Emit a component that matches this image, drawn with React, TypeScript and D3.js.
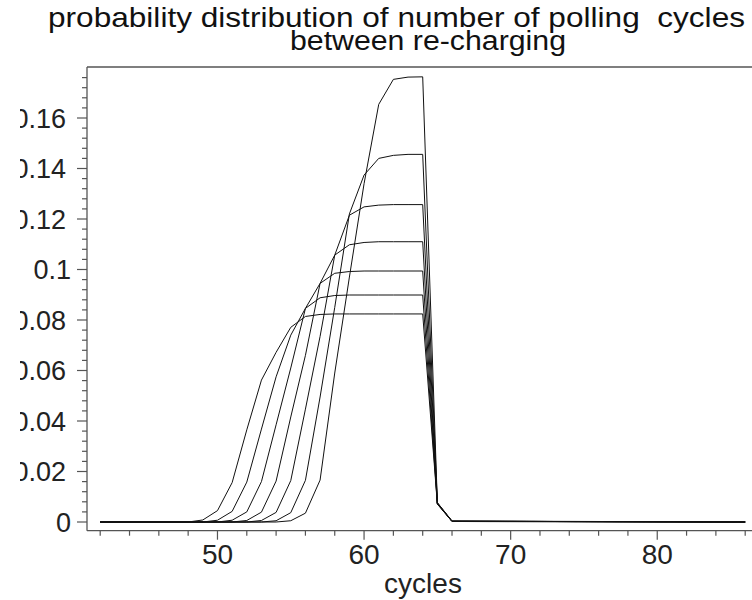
import React from 'react';
import * as d3 from 'd3';

// cycles where the curves change (flat zero before 48 and after 66)
const cycles = [42, 48, 49, 50, 51, 52, 53, 54, 55, 56, 57, 58, 59, 60, 61, 62, 63, 64, 65, 66, 86];

const curve1 = [0, 0, 0.0008, 0.0045, 0.0156, 0.0365, 0.0562, 0.0672, 0.0771, 0.0814, 0.0822, 0.0824, 0.0824, 0.0824, 0.0824, 0.0824, 0.0824, 0.0824, 0.0071, 0.0002, 0];
const curve2 = [0, 0, 0, 0.0007, 0.0042, 0.0158, 0.0368, 0.0575, 0.074, 0.0846, 0.0888, 0.0897, 0.0899, 0.0899, 0.0899, 0.0899, 0.0899, 0.0899, 0.0072, 0.0002, 0];
const curve3 = [0, 0, 0, 0, 0.0007, 0.004, 0.016, 0.0385, 0.061, 0.0846, 0.0945, 0.0985, 0.0992, 0.0994, 0.0994, 0.0994, 0.0994, 0.0994, 0.0073, 0.0003, 0];
const curve4 = [0, 0, 0, 0, 0, 0.0006, 0.0039, 0.0162, 0.0416, 0.066, 0.0945, 0.1057, 0.1098, 0.1107, 0.111, 0.111, 0.111, 0.111, 0.0074, 0.0003, 0];
const curve5 = [0, 0, 0, 0, 0, 0, 0.0006, 0.0038, 0.0164, 0.0447, 0.0735, 0.1057, 0.1215, 0.1248, 0.1255, 0.1257, 0.1257, 0.1257, 0.0075, 0.0003, 0];
const curve6 = [0, 0, 0, 0, 0, 0, 0, 0.0005, 0.0037, 0.0165, 0.0495, 0.085, 0.122, 0.1374, 0.144, 0.1452, 0.1456, 0.1456, 0.0076, 0.0003, 0];
const curve7 = [0, 0, 0, 0, 0, 0, 0, 0, 0.0005, 0.0035, 0.0166, 0.059, 0.097, 0.134, 0.1654, 0.1753, 0.1762, 0.1763, 0.0077, 0.0004, 0];

const allCurves = [curve1, curve2, curve3, curve4, curve5, curve6, curve7];

const xTicks = [50, 60, 70, 80];
const yTicks = [0, 0.02, 0.04, 0.06, 0.08, 0.1, 0.12, 0.14, 0.16];
const yTickLabels = ['0', '0.02', '0.04', '0.06', '0.08', '0.1', '0.12', '0.14', '0.16'];

const titleLine1 = 'probability distribution of number of polling  cycles';
const titleLine2 = 'between re-charging';
const xLabel = 'cycles';

const W = 752;
const H = 600;
const left = 87;
const top = 67;
const bottom = 530.7;
const axisColor = '#555';
const font = '"Liberation Sans", Arial, sans-serif';

export default function App() {
  const x = d3.scaleLinear().domain([42, 86]).range([100.2, 745.2]);
  const y = d3.scaleLinear().domain([0, 0.16]).range([522, 118]);

  const line = d3.line<number>()
    .x((_, i) => x(cycles[i]))
    .y(d => y(d));

  const yMinor = d3.range(0, 0.1781, 0.004).filter(v => Math.abs(v / 0.02 - Math.round(v / 0.02)) > 1e-6);
  const xMinor = d3.range(42, 87, 2).filter(v => v % 10 !== 0);

  return (
    <svg width={W} height={H} style={{ position: 'absolute', left: 0, top: 0, background: '#fff' }}>
      <defs>
        <clipPath id="ylab">
          <rect x={20} y={0} width={left - 20} height={H} />
        </clipPath>
      </defs>

      {/* title, the two lines touch like in the original */}
      <text x={48} y={27} fontFamily={font} fontSize={28} textLength={697} lengthAdjust="spacingAndGlyphs"
        style={{ whiteSpace: 'pre' }} fill="#111">{titleLine1}</text>
      <text x={290} y={50} fontFamily={font} fontSize={27} textLength={276} lengthAdjust="spacingAndGlyphs"
        fill="#111">{titleLine2}</text>

      {/* frame */}
      <line x1={left} x2={W} y1={top} y2={top} stroke={axisColor} strokeWidth={1.3} />
      <line x1={left} x2={left} y1={top} y2={bottom} stroke={axisColor} strokeWidth={1.3} />
      <line x1={left} x2={W} y1={bottom} y2={bottom} stroke={axisColor} strokeWidth={1.3} />

      {/* y ticks */}
      {yTicks.map(v => (
        <line key={'ym' + v} x1={left - 10} x2={left} y1={y(v)} y2={y(v)} stroke={axisColor} strokeWidth={1.2} />
      ))}
      {yMinor.map(v => (
        <line key={'yn' + v} x1={left - 5} x2={left} y1={y(v)} y2={y(v)} stroke={axisColor} strokeWidth={1.2} />
      ))}
      <g clipPath="url(#ylab)">
        {yTicks.map((v, i) => (
          <text key={'yl' + v} x={yTickLabels[i].length > 3 ? 66 : 71} y={y(v) + 9.5} textAnchor="end"
            fontFamily={font} fontSize={27} fill="#222">{yTickLabels[i]}</text>
        ))}
      </g>

      {/* x ticks */}
      {xTicks.map(v => (
        <line key={'xm' + v} x1={x(v)} x2={x(v)} y1={bottom} y2={bottom + 9} stroke={axisColor} strokeWidth={1.2} />
      ))}
      {xMinor.map(v => (
        <line key={'xn' + v} x1={x(v)} x2={x(v)} y1={bottom} y2={bottom + 5} stroke={axisColor} strokeWidth={1.2} />
      ))}
      {xTicks.map(v => (
        <text key={'xl' + v} x={x(v)} y={564} textAnchor="middle" fontFamily={font} fontSize={28} fill="#222">{v}</text>
      ))}
      <text x={423} y={593} textAnchor="middle" fontFamily={font} fontSize={28} fill="#222">{xLabel}</text>

      {/* curves */}
      {allCurves.map((c, i) => (
        <path key={i} d={line(c) || ''} fill="none" stroke="#111" strokeWidth={1} strokeLinejoin="round" />
      ))}
    </svg>
  );
}
